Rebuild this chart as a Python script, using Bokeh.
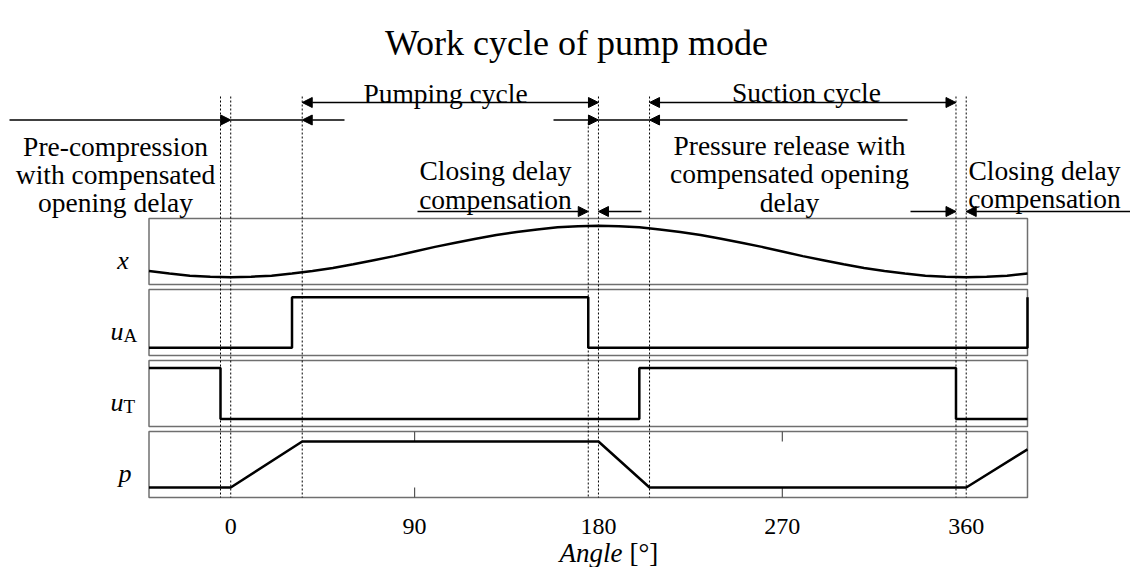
from bokeh.plotting import figure
from bokeh.models import Range1d, Arrow, NormalHead, ColumnDataSource
from bokeh.core.properties import value
from bokeh.embed import file_html
from bokeh.resources import INLINE

# ---------------- data ----------------
title_text = "Work cycle of pump mode"
axis_title_main = "Angle"
axis_title_unit = "[°]"
angle_min, angle_max = -40, 390
tick_angles = [0, 90, 180, 270, 360]
tick_labels = ["0", "90", "180", "270", "360"]
event_angles = [-5, 0, 35, 175, 180, 205, 355, 360]

x_angle = list(range(-40, 391, 10))
x_value = [0.12, 0.07, 0.03, 0.01, 0.0,
           0.01, 0.03, 0.07, 0.12, 0.18, 0.25, 0.33, 0.41, 0.50, 0.59, 0.67, 0.75, 0.82, 0.88, 0.93, 0.97, 0.99, 1.00,
           0.99, 0.97, 0.93, 0.88, 0.82, 0.75, 0.67, 0.59, 0.50, 0.41, 0.33, 0.25, 0.18, 0.12, 0.07, 0.03, 0.01, 0.0,
           0.01, 0.03, 0.07]
uA_angle = [-40, 30, 30, 175, 175, 390, 390]
uA_value = [0, 0, 1, 1, 0, 0, 1]
uT_angle = [-40, -5, -5, 200, 200, 355, 355, 390]
uT_value = [1, 1, 0, 0, 1, 1, 0, 0]
p_angle = [-40, 0, 35, 180, 205, 360, 390]
p_value = [0, 0, 1, 1, 0, 0, 0.83]

panel_main = ["x", "u", "u", "p"]
panel_sub = ["", "A", "T", ""]

# double-headed cycle arrows (angle from, angle to)
cycle_from = [35, 205]
cycle_to = [180, 355]
cycle_labels = ["Pumping cycle", "Suction cycle"]

annot_left = ["Pre-compression", "with compensated", "opening delay"]
annot_mid = ["Closing delay", "compensation"]
annot_rel = ["Pressure release with", "compensated opening", "delay"]
annot_right = ["Closing delay", "compensation"]

# ---------------- layout (page pixels) ----------------
W, H = 1130, 567
OFF = 0
PANEL_L, PANEL_R = 148.5, 1027.0
scale = (PANEL_R - PANEL_L) / (angle_max - angle_min)


def ax(px):
    return angle_min + (px - PANEL_L) / scale


FONT = value("Liberation Serif")
ANN_SIZE = "27.5px"

p = figure(width=W, height=H, output_backend="svg", toolbar_location=None,
           x_range=Range1d(ax(OFF), ax(OFF + W)), y_range=Range1d(OFF + H, OFF),
           x_axis_location=None, y_axis_location=None, min_border=0)
p.grid.visible = False
p.outline_line_color = None
p.background_fill_color = "white"
p.border_fill_color = "white"

panel_top = [218, 289, 360, 431]
panel_h = 66
panel_pad = [7.3, 7.7, 7.5, 10.0]
names = ["x", "uA", "uT", "p"]
for i, nm in enumerate(names):
    y0 = panel_top[i] + panel_h - panel_pad[i]
    y1 = panel_top[i] + panel_pad[i]
    k = y0 - y1
    p.extra_y_ranges[nm] = Range1d(start=(y0 - (OFF + H)) / k, end=(y0 - OFF) / k)

# panel frames
p.quad(left=[angle_min] * 4, right=[angle_max] * 4, top=panel_top,
       bottom=[t + panel_h for t in panel_top], fill_color=None,
       line_color="#6f6f6f", line_width=1.5)

# inward ticks on the p panel (those not hidden by event lines)
vis_ticks = [t for t in tick_angles if t not in event_angles]
pt = panel_top[3]
p.segment(x0=vis_ticks, x1=vis_ticks, y0=[pt] * len(vis_ticks), y1=[pt + 10] * len(vis_ticks),
          line_color="#555555", line_width=1.2)
p.segment(x0=vis_ticks, x1=vis_ticks, y0=[pt + panel_h] * len(vis_ticks),
          y1=[pt + panel_h - 10] * len(vis_ticks), line_color="#555555", line_width=1.2)

# dashed event lines
event_top = [96 if a != 175 else 122 for a in event_angles]
p.segment(x0=event_angles, x1=event_angles, y0=event_top, y1=[panel_top[3] + panel_h] * len(event_angles),
          line_color="black", line_width=1, line_dash="2 2")

# signals
p.line(x_angle, x_value, y_range_name="x", line_color="black", line_width=2.5)
p.line(uA_angle, uA_value, y_range_name="uA", line_color="black", line_width=2.5)
p.line(uT_angle, uT_value, y_range_name="uT", line_color="black", line_width=2.5)
p.line(p_angle, p_value, y_range_name="p", line_color="black", line_width=2.5)

# panel labels
lab_y = [t + panel_h / 2 + 9 for t in panel_top]
main_px = [122.5, 116.5, 116.5, 124.5]
p.text(x=[ax(v) for v in main_px], y=lab_y, text=panel_main, text_font=FONT, text_font_size="26px",
       text_font_style="italic", text_align="center", text_baseline="alphabetic", text_color="black")
sub_idx = [i for i, s in enumerate(panel_sub) if s]
p.text(x=[ax(123)] * len(sub_idx), y=[lab_y[i] + 4 for i in sub_idx], text=[panel_sub[i] for i in sub_idx],
       text_font=FONT, text_font_size="19px", text_align="left", text_baseline="alphabetic",
       text_color="black")

# tick labels
p.text(x=tick_angles, y=[526] * len(tick_angles), text=tick_labels, text_font=FONT, text_font_size="24px",
       text_align="center", text_baseline="alphabetic", text_color="black")

# axis title
p.text(x=[ax(622)], y=[552], text=[axis_title_main], text_font=FONT, text_font_size="27px",
       text_font_style="italic", text_align="right", text_baseline="alphabetic", text_color="black")
p.text(x=[ax(629)], y=[552], text=[axis_title_unit], text_font=FONT, text_font_size="27px",
       text_align="left", text_baseline="alphabetic", text_color="black")

# title
p.text(x=[ax(576)], y=[42], text=[title_text], text_font=FONT, text_font_size="36px",
       text_align="center", text_baseline="alphabetic", text_color="black")


def head():
    return NormalHead(size=10, fill_color="black", line_color="black", line_width=1)


ROW1, ROW2, ROW3 = 102, 119.5, 211

# row 1: double-headed cycle arrows
src1 = ColumnDataSource(dict(x0=cycle_from, x1=cycle_to, y0=[ROW1] * 2, y1=[ROW1] * 2))
p.add_layout(Arrow(start=head(), end=head(), source=src1, x_start="x0", y_start="y0",
                   x_end="x1", y_end="y1", line_color="black", line_width=1.5))
p.text(x=[ax(445), ax(806)], y=[93, 92], text=cycle_labels, text_font=FONT, text_font_size=ANN_SIZE,
       text_align="center", text_baseline="alphabetic", text_color="black")

# row 2 and row 3: single-headed arrows (tail -> head)
tails = [ax(9), ax(344), ax(553), ax(907), ax(417), ax(641), ax(910), ax(OFF + W)]
heads = [0, 35, 180, 205, 175, 180, 355, 360]
rows = [ROW2, ROW2, ROW2, ROW2, ROW3, ROW3, ROW3, ROW3]
src2 = ColumnDataSource(dict(x0=tails, x1=heads, y0=rows, y1=rows))
p.add_layout(Arrow(end=head(), source=src2, x_start="x0", y_start="y0", x_end="x1", y_end="y1",
                   line_color="black", line_width=1.5))
# plain connecting segments on row 2
p.segment(x0=[0, 180], x1=[35, 205], y0=[ROW2] * 2, y1=[ROW2] * 2, line_color="black", line_width=1.5)


# multi-line annotations
def block(lines, cx, baselines):
    p.text(x=[ax(cx)] * len(lines), y=baselines, text=lines, text_font=FONT, text_font_size=ANN_SIZE,
           text_align="center", text_baseline="alphabetic", text_color="black")


block(annot_left, 115, [146, 174, 202])
block(annot_mid, 495, [170, 199])
block(annot_rel, 789, [145, 173, 202])
block(annot_right, 1044, [170, 198])

open("out.html", "w").write(file_html(p, INLINE))
